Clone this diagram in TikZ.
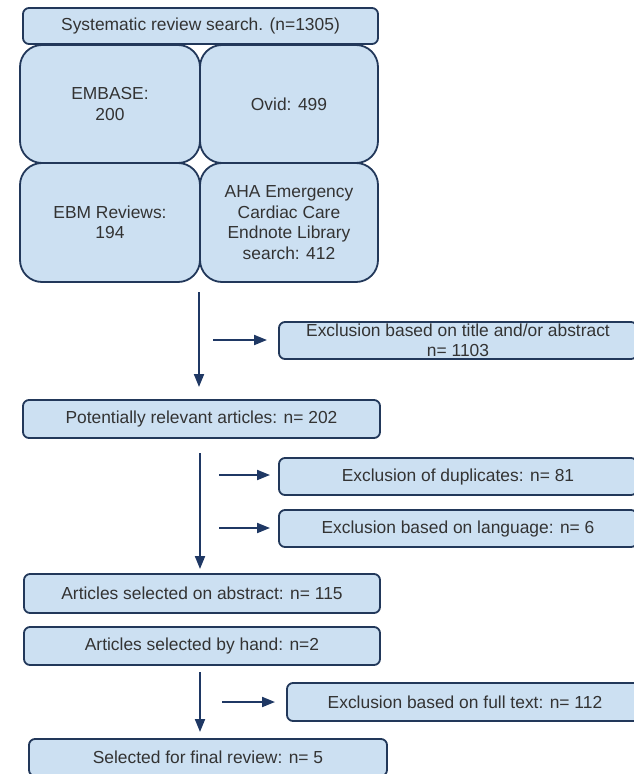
\documentclass[tikz,border=0pt]{standalone}
\usepackage{fontspec}
\setmainfont{Liberation Sans}
\usetikzlibrary{arrows.meta}
\definecolor{boxfill}{HTML}{CCE0F2}
\definecolor{boxline}{HTML}{22385A}
\definecolor{arrcol}{HTML}{1F3864}
\definecolor{txtcol}{HTML}{333333}
\begin{document}
\begin{tikzpicture}[x=1pt,y=-1pt,
  box/.style={draw=boxline, fill=boxfill, line width=1.8pt, rounded corners=6pt,
    inner sep=0pt, align=center, text=txtcol,
    font=\fontsize{17.4pt}{20.5pt}\selectfont},
  bigbox/.style={box, rounded corners=22pt},
  arr/.style={draw=arrcol, line width=2pt, -{Triangle[length=13pt,width=10pt]}}]
\useasboundingbox (0,0) rectangle (633,774);
% top block
\node[box, minimum width=355pt, minimum height=36pt] (top) at (200.5,26) {Systematic review search. (n=1305)};
\node[bigbox, minimum width=180pt, minimum height=118pt] (embase) at (110,104) {EMBASE:\\200};
\node[bigbox, minimum width=178pt, minimum height=118pt] (ovid) at (289,104) {Ovid: 499};
\node[bigbox, minimum width=180pt, minimum height=119pt] (ebm) at (110,222.5) {EBM Reviews:\\194};
\node[bigbox, minimum width=178pt, minimum height=119pt] (aha) at (289,222.5) {AHA Emergency\\Cardiac Care\\Endnote Library\\search: 412};
% exclusion 1
\node[box, minimum width=358pt, minimum height=37pt] (ex1) at (458,340.5) {Exclusion based on title and/or abstract\\n= 1103};
\node[box, minimum width=357pt, minimum height=38pt] (pot) at (201.5,419) {Potentially relevant articles: n= 202};
\node[box, minimum width=358pt, minimum height=37pt] (dup) at (458,476.5) {Exclusion of duplicates: n= 81};
\node[box, minimum width=358pt, minimum height=37pt] (lang) at (458,528.5) {Exclusion based on language: n= 6};
\node[box, minimum width=356pt, minimum height=39pt] (abs) at (202,593.5) {Articles selected on abstract: n= 115};
\node[box, minimum width=356pt, minimum height=38pt] (hand) at (202,646) {Articles selected by hand: n=2};
\node[box, minimum width=356pt, minimum height=38pt] (full) at (465,702) {Exclusion based on full text: n= 112};
\node[box, minimum width=358pt, minimum height=37pt] (final) at (208,757.5) {Selected for final review: n= 5};
% arrow end points
\coordinate (v1s) at (199,292); \coordinate (v1e) at (199,387);
\coordinate (h1s) at (213,340); \coordinate (h1e) at (267,340);
\coordinate (v2s) at (200,453); \coordinate (v2e) at (200,569);
\coordinate (h2s) at (219,475); \coordinate (h2e) at (270,475);
\coordinate (h3s) at (219,528); \coordinate (h3e) at (270,528);
\coordinate (v3s) at (200,672); \coordinate (v3e) at (200,732);
\coordinate (h4s) at (222,702); \coordinate (h4e) at (275,702);
\draw[arr] (v1s) -- (v1e);
\draw[arr] (h1s) -- (h1e);
\draw[arr] (v2s) -- (v2e);
\draw[arr] (h2s) -- (h2e);
\draw[arr] (h3s) -- (h3e);
\draw[arr] (v3s) -- (v3e);
\draw[arr] (h4s) -- (h4e);
\end{tikzpicture}
\end{document}
